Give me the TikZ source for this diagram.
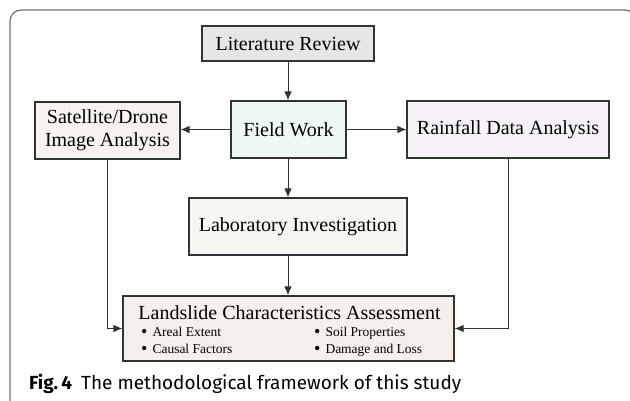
\documentclass[tikz,border=0pt]{standalone}
\usepackage{fontspec}
\setmainfont{Liberation Serif}
\newfontfamily\capfont{Fira Sans}
\usetikzlibrary{arrows.meta}
\definecolor{litfill}{HTML}{E6E6E6}
\definecolor{satfill}{HTML}{F7F3EF}
\definecolor{fieldfill}{HTML}{EEF8F7}
\definecolor{rainfill}{HTML}{F6F2F8}
\definecolor{labfill}{HTML}{F5F8F2}
\definecolor{landfill}{HTML}{F5F0EB}
\definecolor{edge}{HTML}{333333}
\definecolor{framecol}{HTML}{6E6E6E}
\newcommand{\bigbul}{\raisebox{-1.2pt}{\fontsize{18}{18}\selectfont\textbullet}}
\tikzset{
  box/.style={draw=edge, line width=1.1pt, inner sep=0pt, align=center,
    font=\fontsize{20}{23}\selectfont},
  conn/.style={draw=edge, line width=1pt, -{Latex[length=9pt,width=7.5pt]}},
  bul/.style={anchor=base west, inner sep=0pt, font=\fontsize{13.5}{15}\selectfont},
}
\begin{document}
\begin{tikzpicture}[x=1pt,y=-1pt]
\useasboundingbox (0,0) rectangle (630,400);
\begin{scope}
\clip (0,0) rectangle (630,400);
\draw[framecol, line width=1.2pt, rounded corners=11pt] (10,10) rectangle (636,420);
\end{scope}
\node[box, fill=litfill, minimum width=172pt, minimum height=35pt] (lit) at (288,43.5) {Literature Review};
\node[box, fill=satfill, minimum width=145pt, minimum height=57pt] (sat) at (107.5,130.5) {Satellite/Drone\\Image Analysis};
\node[box, fill=fieldfill, minimum width=115pt, minimum height=57pt] (field) at (288.5,129.5) {Field Work};
\node[box, fill=rainfill, minimum width=202pt, minimum height=57pt] (rain) at (508,129.5) {Rainfall Data Analysis};
\node[box, fill=labfill, minimum width=218pt, minimum height=57pt] (lab) at (298,226.5) {Laboratory Investigation};
\node[box, fill=landfill, minimum width=331pt, minimum height=65pt] (land) at (288.5,328.5) {};
\node[inner sep=0pt, font=\fontsize{20}{23}\selectfont] (title) at (289.5,313) {Landslide Characteristics Assessment};
\node[bul] (b1) at (141,336) {\bigbul\hspace{5pt}Areal Extent};
\node[bul] (b2) at (141,353) {\bigbul\hspace{5pt}Causal Factors};
\node[bul] (b3) at (314,336) {\bigbul\hspace{5pt}Soil Properties};
\node[bul] (b4) at (314,353) {\bigbul\hspace{5pt}Damage and Loss};
\draw[conn] (lit.south -| 288,0) -- (field.north -| 288,0);
\draw[conn] (field.west) -- (sat.east |- field.west);
\draw[conn] (field.east) -- (rain.west |- field.east);
\draw[conn] (field.south -| 288,0) -- (lab.north -| 288,0);
\draw[conn] (lab.south -| 288,0) -- (land.north -| 288,0);
\draw[conn] (sat.south) |- (land.west);
\draw[conn] (rain.south) |- (land.east);
\node[anchor=base west, inner sep=0pt, font=\capfont\fontsize{19}{22}\selectfont] (cap) at (29,389) {\textbf{Fig.\,4}\hspace{9pt}The methodological framework of this study};
\end{tikzpicture}
\end{document}
